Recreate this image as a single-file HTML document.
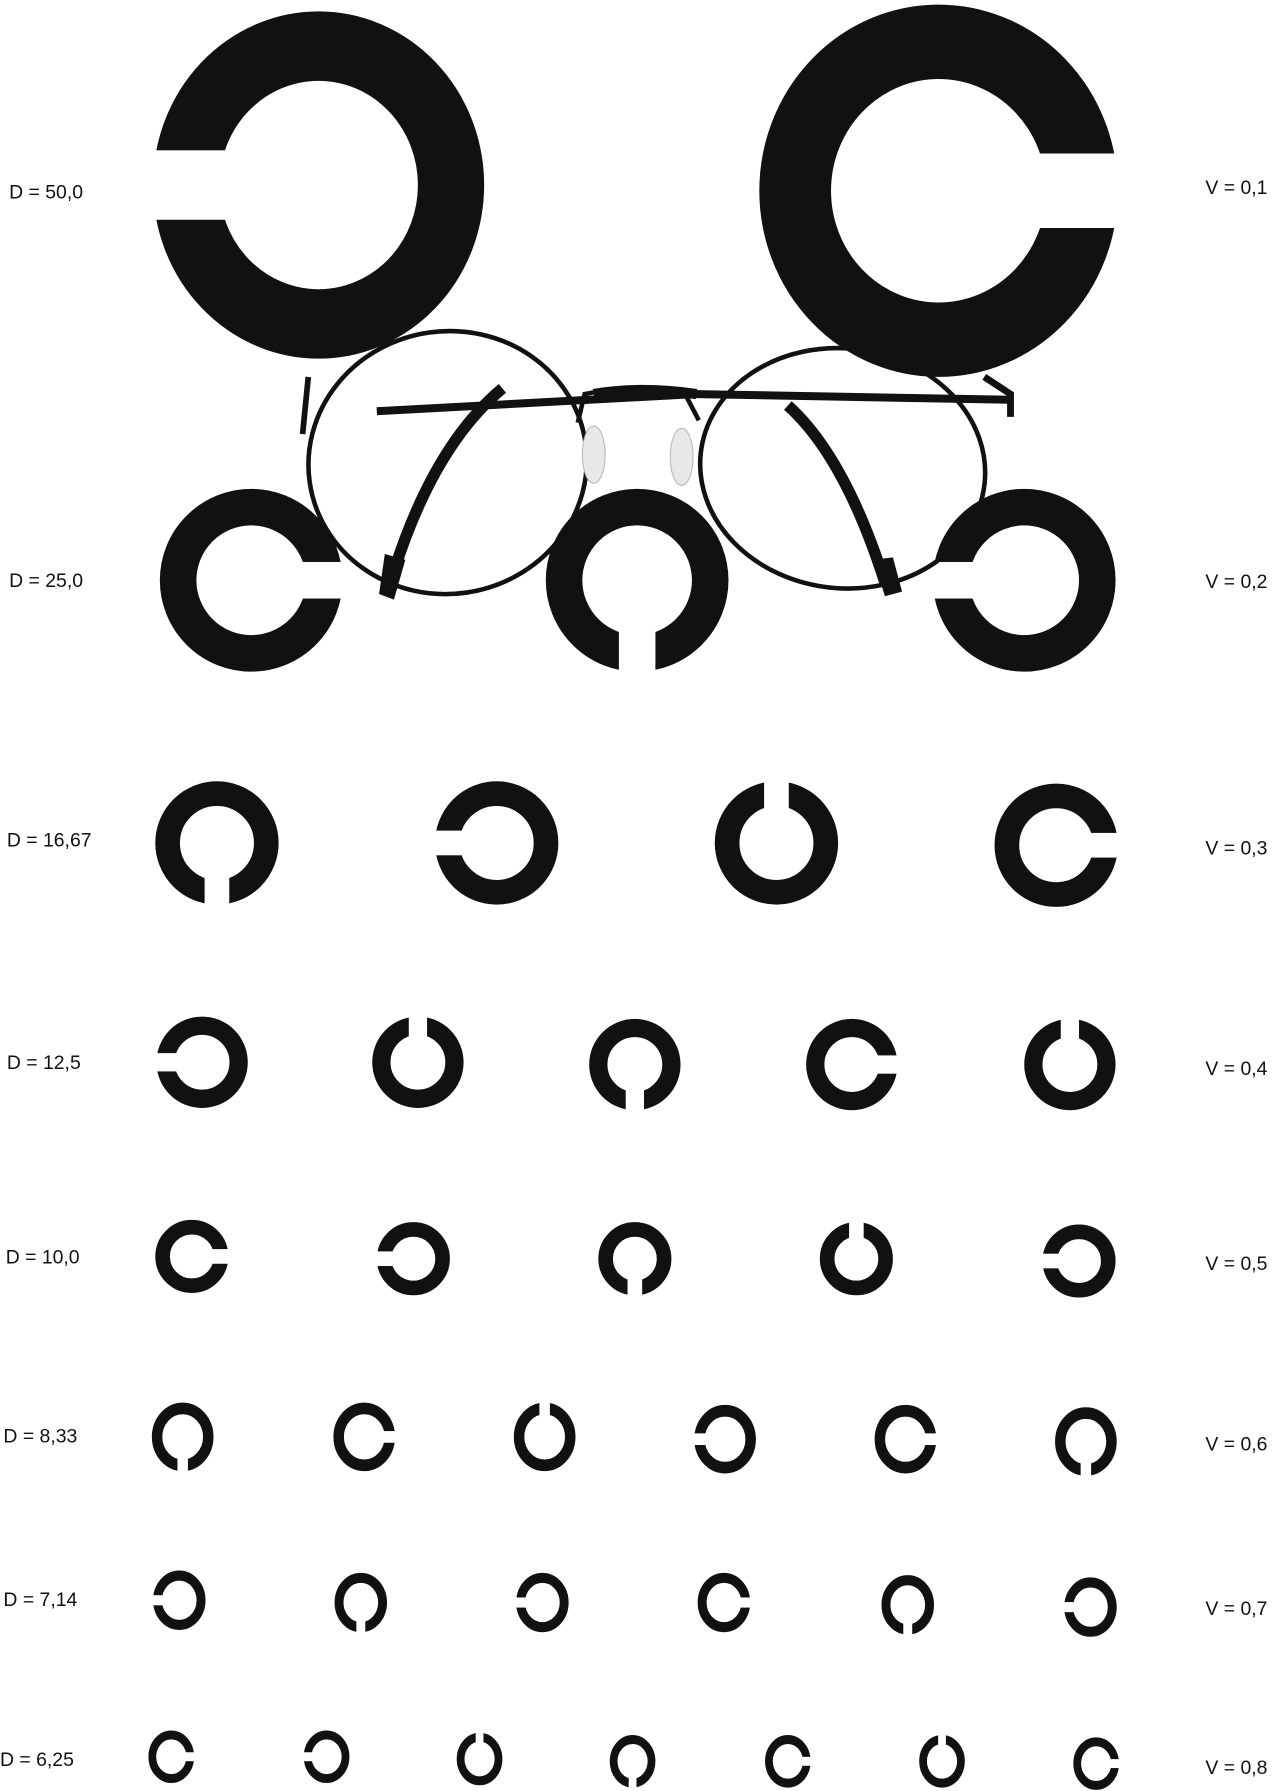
<!DOCTYPE html>
<html><head><meta charset="utf-8"><style>
html,body{margin:0;padding:0;background:#fff;}
svg{display:block;}
text{font-family:"Liberation Sans",sans-serif;font-size:17px;fill:#111;}
</style></head><body>
<svg width="1272" height="1791" viewBox="0 0 1114 1568" preserveAspectRatio="none" xmlns="http://www.w3.org/2000/svg">
<defs>
<g id="L">
<circle cx="0" cy="0" r="0.8" fill="none" stroke="#111" stroke-width="0.4"/>
<rect x="0" y="-0.2" width="1.2" height="0.4" fill="#fff"/>
</g>
<g id="T">
<circle cx="0" cy="0" r="0.83" fill="none" stroke="#111" stroke-width="0.34"/>
<rect x="0" y="-0.17" width="1.2" height="0.34" fill="#fff"/>
</g>
</defs>
<rect width="1114" height="1568" fill="#fff"/>
<!-- row1 -->
<use href="#L" transform="translate(279,162) scale(145,152) rotate(180)"/>
<use href="#L" transform="translate(822,167) scale(157,163) rotate(0)"/>
<!-- row2 -->
<use href="#L" transform="translate(220,508) scale(80) rotate(0)"/>
<use href="#L" transform="translate(558,508) scale(80) rotate(90)"/>
<use href="#L" transform="translate(897,508) scale(80) rotate(180)"/>
<!-- row3 -->
<use href="#L" transform="translate(190,738) scale(54) rotate(90)"/>
<use href="#L" transform="translate(435,738) scale(54) rotate(180)"/>
<use href="#L" transform="translate(680,738) scale(54) rotate(270)"/>
<use href="#L" transform="translate(925,740) scale(54) rotate(0)"/>
<!-- row4 -->
<use href="#L" transform="translate(177,930) scale(40) rotate(180)"/>
<use href="#L" transform="translate(366,930) scale(40) rotate(270)"/>
<use href="#L" transform="translate(556,932) scale(40) rotate(90)"/>
<use href="#L" transform="translate(746,932) scale(40) rotate(0)"/>
<use href="#L" transform="translate(937,932) scale(40) rotate(270)"/>
<!-- row5 -->
<use href="#L" transform="translate(168,1100) scale(32) rotate(0)"/>
<use href="#L" transform="translate(362,1102) scale(32) rotate(180)"/>
<use href="#L" transform="translate(556,1102) scale(32) rotate(90)"/>
<use href="#L" transform="translate(750,1102) scale(32) rotate(270)"/>
<use href="#L" transform="translate(945,1104) scale(32) rotate(180)"/>
<!-- row6 -->
<use href="#T" transform="translate(160,1258) scale(27,30) rotate(90)"/>
<use href="#T" transform="translate(319,1258) scale(27,30) rotate(0)"/>
<use href="#T" transform="translate(477,1258) scale(27,30) rotate(270)"/>
<use href="#T" transform="translate(635,1260) scale(27,30) rotate(180)"/>
<use href="#T" transform="translate(793,1260) scale(27,30) rotate(0)"/>
<use href="#T" transform="translate(951,1262) scale(27,30) rotate(90)"/>
<!-- row7 -->
<use href="#T" transform="translate(157,1401) scale(23,26) rotate(180)"/>
<use href="#T" transform="translate(316,1403) scale(23,26) rotate(90)"/>
<use href="#T" transform="translate(475,1403) scale(23,26) rotate(180)"/>
<use href="#T" transform="translate(634,1403) scale(23,26) rotate(0)"/>
<use href="#T" transform="translate(795,1405) scale(23,26) rotate(90)"/>
<use href="#T" transform="translate(955,1407) scale(23,26) rotate(180)"/>
<!-- row8 -->
<use href="#T" transform="translate(150,1538) scale(20,23) rotate(0)"/>
<use href="#T" transform="translate(286,1538) scale(20,23) rotate(180)"/>
<use href="#T" transform="translate(420,1540) scale(20,23) rotate(270)"/>
<use href="#T" transform="translate(554,1542) scale(20,23) rotate(90)"/>
<use href="#T" transform="translate(690,1542) scale(20,23) rotate(0)"/>
<use href="#T" transform="translate(825,1542) scale(20,23) rotate(270)"/>
<use href="#T" transform="translate(960,1544) scale(20,23) rotate(0)"/>
<!-- glasses -->
<g fill="none" stroke="#111">
<path d="M330,360 L610,345 L885,350" stroke-width="7"/>
<path d="M520,345 Q560,338 610,345" stroke-width="9"/>
<ellipse cx="392" cy="405" rx="122" ry="115" transform="rotate(-8 392 405)" stroke-width="4"/>
<ellipse cx="738" cy="410" rx="125" ry="105" transform="rotate(6 738 410)" stroke-width="4"/>
<path d="M506,370 L512,345 Q560,335 600,345 L612,368" stroke-width="4"/>
<path d="M440,340 Q380,390 345,500" stroke-width="10"/>
<path d="M690,355 Q740,400 775,510" stroke-width="10"/>
<path d="M862,330 L885,345 L885,365" stroke-width="6"/>
<path d="M270,330 L265,380" stroke-width="5"/>
</g>
<path d="M337,485 L355,490 L345,525 L332,520 Z" fill="#111"/>
<path d="M765,490 L782,488 L790,518 L775,522 Z" fill="#111"/>
<ellipse cx="520" cy="398" rx="10" ry="25" fill="#e8e8e8" stroke="#bbb"/>
<ellipse cx="597" cy="400" rx="10" ry="25" fill="#e8e8e8" stroke="#bbb"/>
<!-- labels -->
<text x="8" y="174">D = 50,0</text>
<text x="8" y="514">D = 25,0</text>
<text x="6" y="741">D = 16,67</text>
<text x="6" y="936">D = 12,5</text>
<text x="5" y="1106">D = 10,0</text>
<text x="3" y="1263">D = 8,33</text>
<text x="3" y="1406">D = 7,14</text>
<text x="0" y="1546">D = 6,25</text>
<g text-anchor="end">
<text x="1110" y="170">V = 0,1</text>
<text x="1110" y="515">V = 0,2</text>
<text x="1110" y="748">V = 0,3</text>
<text x="1110" y="941">V = 0,4</text>
<text x="1110" y="1112">V = 0,5</text>
<text x="1110" y="1270">V = 0,6</text>
<text x="1110" y="1414">V = 0,7</text>
<text x="1110" y="1553">V = 0,8</text>
</g>
</svg>
</body></html>
